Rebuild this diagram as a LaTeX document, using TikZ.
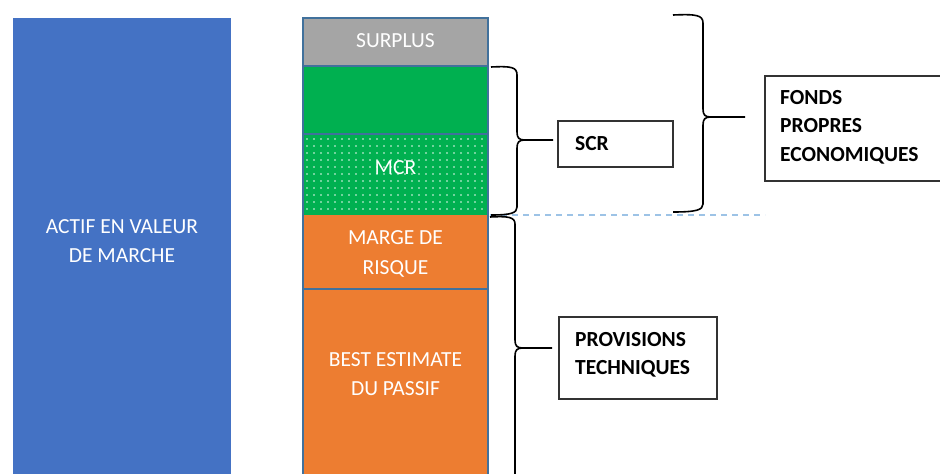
\documentclass[tikz,border=0pt]{standalone}
\usepackage{fontspec}
\setmainfont{Carlito}
\definecolor{cblue}{HTML}{4472C4}
\definecolor{cgray}{HTML}{A5A5A5}
\definecolor{cgreen}{HTML}{00B050}
\definecolor{corange}{HTML}{ED7D31}
\definecolor{cdash}{HTML}{9DC3E6}
\definecolor{cedge}{HTML}{41719C}
\tikzset{
  wtext/.style={text=white, font=\fontsize{21.5}{29.5}\selectfont, align=center, inner sep=0pt},
  btext/.style={text=black, font=\fontsize{21.5}{28.5}\selectfont\bfseries, align=left, inner sep=0pt, anchor=west},
  lbox/.style={draw=black!80, line width=1.3pt},
  brace/.style={draw=black, line width=1.6pt},
  layer/.style={draw=cedge, line width=1.2pt}
}
\begin{document}
\begin{tikzpicture}[x=1pt,y=-1pt]
\clip (0,0) rectangle (940,474);
\fill[white] (0,0) rectangle (940,474);
% asset column
\fill[cblue] (13,18) rectangle (231,480);
\node[wtext] (actif) at (122,241) {ACTIF EN VALEUR\\DE MARCHE};
% liabilities stack
\fill[cgray] (303,18) rectangle (488,66);
\fill[cgreen] (303,66) rectangle (488,134);
\fill[cgreen] (303,134) rectangle (488,215);
\begin{scope}
\clip (304,135) rectangle (487,214);
\foreach \xx in {307,314,...,487} {
  \foreach \yy in {139,146,...,214} {
    \fill[white!90!cgreen] (\xx,\yy) circle (0.8);
  }
}
\end{scope}
\fill[corange] (303,215) rectangle (488,289);
\fill[corange] (303,289) rectangle (488,480);
\draw[layer] (303,18) rectangle (488,480);
\draw[layer] (303,66) -- (488,66);
\draw[layer] (303,134) -- (488,134);
\draw[layer] (303,289) -- (488,289);
\node[wtext] (surplus) at (395.5,41) {SURPLUS};
\node[wtext] (mcr) at (395.5,168) {MCR};
\node[wtext] (marge) at (395.5,254) {MARGE DE\\RISQUE};
\node[wtext] (best) at (395.5,374) {BEST ESTIMATE\\DU PASSIF};
% dashed separator
\coordinate (d1) at (490,215);
\coordinate (d2) at (765,215);
\draw[cdash, line width=1.3pt, dash pattern=on 6pt off 5pt] (d1) -- (d2);
% boxes
\draw[lbox] (558,121) rectangle (673,167);
\node[btext] (scr) at (575,144) {SCR};
\draw[lbox] (765,76) rectangle (950,181);
\node[btext] (fonds) at (780,127) {FONDS\\PROPRES\\ECONOMIQUES};
\draw[lbox] (559,317) rectangle (717,399);
\node[btext] (pt) at (575,355) {PROVISIONS\\TECHNIQUES};
% SCR brace
\coordinate (s1) at (491,67);
\coordinate (s2) at (553,140);
\coordinate (s3) at (491,215);
\draw[brace] (s1) .. controls (511,66) and (517,67) .. (517,75) -- (517,132)
  .. controls (517,138) and (519,140) .. (525,140) -- (s2);
\draw[brace] (525,140) .. controls (519,140) and (517,142) .. (517,148) -- (517,207)
  .. controls (517,213) and (511,215) .. (s3);
% big brace
\coordinate (b1) at (673,15);
\coordinate (b2) at (745,117);
\coordinate (b3) at (673,212);
\draw[brace] (b1) .. controls (696,14) and (703,15) .. (703,23) -- (703,109)
  .. controls (703,115) and (705,117) .. (711,117) -- (b2);
\draw[brace] (711,117) .. controls (705,117) and (703,119) .. (703,125) -- (703,204)
  .. controls (703,210) and (696,212) .. (b3);
% PT brace
\coordinate (p1) at (490,217);
\coordinate (p2) at (552,348);
\coordinate (p3) at (515,480);
\draw[brace] (p1) .. controls (508,216) and (515,217) .. (515,224) -- (515,340)
  .. controls (515,346) and (517,348) .. (523,348) -- (p2);
\draw[brace] (523,348) .. controls (517,348) and (515,350) .. (515,356) -- (p3);
\end{tikzpicture}
\end{document}
